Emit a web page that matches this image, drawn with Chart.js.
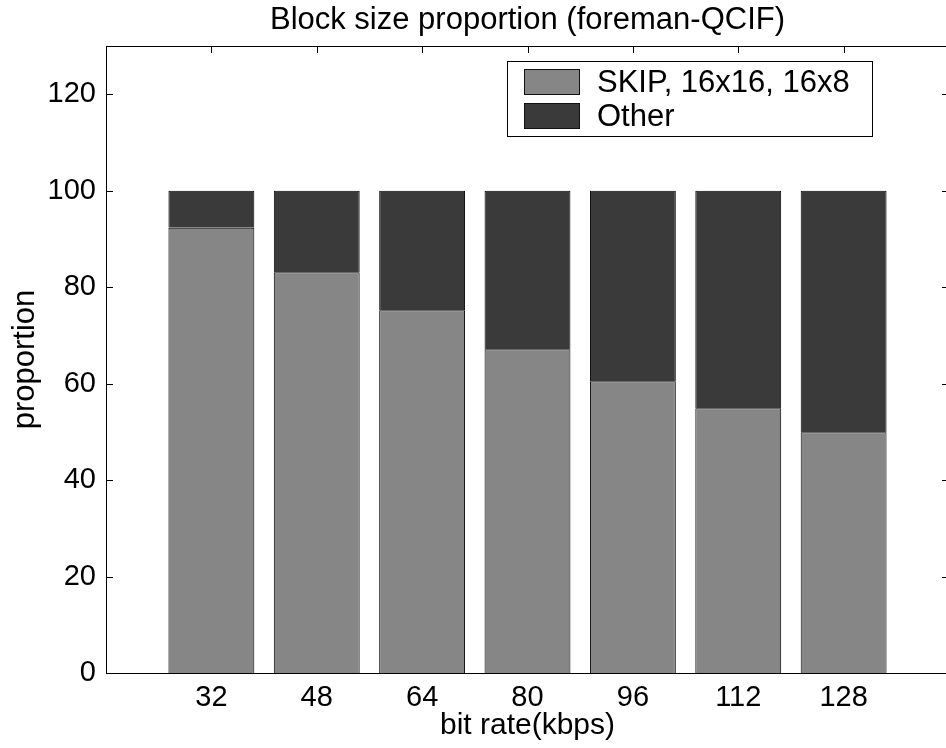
<!DOCTYPE html>
<html lang="en">
<head>
  <meta charset="UTF-8">
  <title>Block size proportion (foreman-QCIF)</title>
  <script src="https://cdn.jsdelivr.net/npm/chart.js"></script>
  <style>
    body { margin: 0; overflow: hidden; background: #fff; }
    #wrap { width: 946px; height: 748px; overflow: hidden; }
  </style>
</head>
<body>

  <div id="wrap"><canvas id="blockChart" width="952" height="748"></canvas></div>

  <script>
    // data
    const bitRates = [32, 48, 64, 80, 96, 112, 128];
    const skipShare = [92.3, 83.1, 75.2, 67.1, 60.5, 54.9, 49.9];
    const otherShare = [7.7, 16.9, 24.8, 32.9, 39.5, 45.1, 50.1];
    const yTickValues = [0, 20, 40, 60, 80, 100, 120];
    const seriesNames = ['SKIP, 16x16, 16x8', 'Other'];
    const chartTitle = 'Block size proportion (foreman-QCIF)';

    const FONT = "'Liberation Sans', Arial, sans-serif";
    const TICK_LEN = 7;

    // inward ticks on all four sides (matlab style) + box + title over the plot
    const innerTicks = {
      id: 'innerTicks',
      beforeDatasetsDraw(chart) {
        const { ctx, chartArea: a, scales: { x, y } } = chart;
        ctx.save();
        ctx.strokeStyle = '#000';
        ctx.lineWidth = 1;
        ctx.beginPath();
        x.ticks.forEach(t => {
          const px = Math.round(x.getPixelForValue(t.value)) + 0.5;
          ctx.moveTo(px, a.top); ctx.lineTo(px, a.top + TICK_LEN);
          ctx.moveTo(px, a.bottom); ctx.lineTo(px, a.bottom - TICK_LEN);
        });
        y.ticks.forEach(t => {
          const py = Math.round(y.getPixelForValue(t.value)) + 0.5;
          ctx.moveTo(a.left, py); ctx.lineTo(a.left + TICK_LEN, py);
          ctx.moveTo(a.right, py); ctx.lineTo(a.right - TICK_LEN, py);
        });
        ctx.stroke();
        ctx.restore();
      },
      afterDatasetsDraw(chart) {
        const { ctx, chartArea: a } = chart;
        ctx.save();
        ctx.strokeStyle = '#000';
        ctx.lineWidth = 1;
        ctx.strokeRect(Math.round(a.left) + 0.5, Math.round(a.top) + 0.5,
                       Math.round(a.right - a.left), Math.round(a.bottom - a.top));
        // title is centred on the axes, not the canvas
        ctx.fillStyle = '#000';
        ctx.font = '31px ' + FONT;
        ctx.textAlign = 'center';
        ctx.textBaseline = 'alphabetic';
        ctx.fillText(chartTitle, (a.left + a.right) / 2, 29);
        ctx.restore();
      }
    };

    // legend box inside the plot, top right
    const legendBox = {
      id: 'legendBox',
      afterDraw(chart) {
        const ctx = chart.ctx;
        ctx.save();
        ctx.lineWidth = 1;
        ctx.strokeStyle = '#000';
        ctx.fillStyle = '#fff';
        ctx.fillRect(507.5, 61.5, 365, 75);
        ctx.strokeRect(507.5, 61.5, 365, 75);
        ctx.font = '31px ' + FONT;
        ctx.textBaseline = 'middle';
        chart.data.datasets.forEach((ds, i) => {
          const top = 69 + i * 34;
          ctx.fillStyle = ds.backgroundColor;
          ctx.fillRect(524.5, top + 0.5, 55, 25);
          ctx.strokeStyle = '#111';
          ctx.strokeRect(524.5, top + 0.5, 55, 25);
          ctx.fillStyle = '#000';
          ctx.fillText(ds.label, 597, top + 14);
        });
        ctx.restore();
      }
    };

    const ctx = document.getElementById('blockChart').getContext('2d');
    const blockChart = new Chart(ctx, {
      type: 'bar',
      data: {
        datasets: [{
          label: seriesNames[0],
          data: bitRates.map((r, i) => ({ x: r, y: skipShare[i] })),
          backgroundColor: '#868686',
          borderColor: '#000',
          borderWidth: 1,
          barPercentage: 0.815,
          categoryPercentage: 1
        }, {
          label: seriesNames[1],
          data: bitRates.map((r, i) => ({ x: r, y: otherShare[i] })),
          backgroundColor: '#3a3a3a',
          borderColor: '#000',
          borderWidth: 1,
          barPercentage: 0.815,
          categoryPercentage: 1
        }]
      },
      options: {
        responsive: false,
        animation: false,
        layout: { padding: { left: 0, right: 3, top: 46, bottom: 0 } },
        plugins: {
          legend: { display: false },
          tooltip: { enabled: false },
          title: { display: false }
        },
        scales: {
          x: {
            type: 'linear',
            stacked: true,
            min: 16,
            max: 144,
            offset: false,
            grid: { display: false, drawTicks: false },
            border: { display: false },
            afterBuildTicks: s => { s.ticks = bitRates.map(v => ({ value: v })); },
            afterFit: s => { s.height = 75; },
            ticks: {
              color: '#000',
              padding: 8,
              maxRotation: 0,
              font: { family: FONT, size: 29 }
            },
            title: {
              display: true,
              text: 'bit rate(kbps)',
              color: '#000',
              font: { family: FONT, size: 30 },
              padding: { top: 0, bottom: 4 }
            }
          },
          y: {
            stacked: true,
            min: 0,
            max: 130,
            grid: { display: false, drawTicks: false },
            border: { display: false },
            afterBuildTicks: s => { s.ticks = yTickValues.map(v => ({ value: v })); },
            afterFit: s => { s.width = 106; },
            ticks: {
              color: '#000',
              padding: 10,
              font: { family: FONT, size: 29 }
            },
            title: {
              display: true,
              text: 'proportion',
              color: '#000',
              font: { family: FONT, size: 31 },
              padding: { top: 7, bottom: 0 }
            }
          }
        }
      },
      plugins: [innerTicks, legendBox]
    });
  </script>

</body>
</html>
